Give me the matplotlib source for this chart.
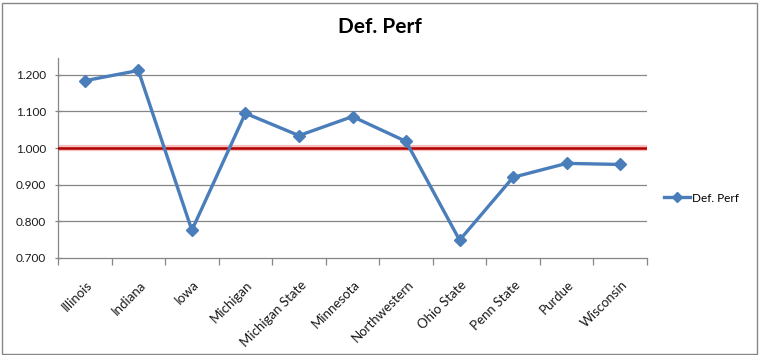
import matplotlib
matplotlib.use("Agg")
import matplotlib.pyplot as plt
from matplotlib.patches import Rectangle
from matplotlib.lines import Line2D
from matplotlib.transforms import ScaledTranslation

categories = ["Illinois", "Indiana", "Iowa", "Michigan", "Michigan State", "Minnesota",
              "Northwestern", "Ohio State", "Penn State", "Purdue", "Wisconsin"]
def_perf = [1.184, 1.212, 0.775, 1.095, 1.034, 1.086, 1.018, 0.748, 0.920, 0.958, 0.955]
y_ticks = [0.7, 0.8, 0.9, 1.0, 1.1, 1.2]
y_ticklabels = ["0.700", "0.800", "0.900", "1.000", "1.100", "1.200"]
reference_level = 1.0
series_name = "Def. Perf"
title = "Def. Perf"

plt.rcParams['font.family'] = ['Lato', 'DejaVu Sans']

W, H = 760, 355
fig = plt.figure(figsize=(W / 100, H / 100), dpi=100)
fig.patch.set_facecolor("white")

# outer chart frame
fig.add_artist(Rectangle((1.5 / W, 1.5 / H), (W - 5) / W, (H - 4) / H, transform=fig.transFigure,
                         fill=False, edgecolor="#878787", linewidth=1.0))

left, right = 58 / W, 647 / W
bottom, top = 1 - 257.7 / H, 1 - 57.7 / H
ax = fig.add_axes([left, bottom, right - left, top - bottom])

grid_c = "#868686"
n = len(categories)
x = list(range(n))
ax.set_xlim(-0.5, n - 0.5)
ax.set_ylim(0.7, 1.247)

for yv in y_ticks[1:]:
    ax.axhline(yv, color=grid_c, lw=0.9, zorder=1)

# reference line with glow
ax.axhline(reference_level, color="#f4a6a6", lw=4.5, alpha=0.7, zorder=2)
ax.axhline(reference_level, color="#b00000", lw=1.8, zorder=3)

line_c = "#4A7EBB"
ax.plot(x, def_perf, color=line_c, lw=2.4, marker="D", markersize=6,
        markerfacecolor=line_c, markeredgecolor=line_c, zorder=4, solid_joinstyle="round")

for s in ["top", "right"]:
    ax.spines[s].set_visible(False)
for s in ["left", "bottom"]:
    ax.spines[s].set_color(grid_c)
    ax.spines[s].set_linewidth(0.9)

ax.set_yticks(y_ticks)
ax.set_yticklabels(y_ticklabels, fontsize=8.5, color="#1a1a1a")
ax.tick_params(axis="y", length=5, width=0.9, color=grid_c, pad=6, direction="inout")

# category boundary ticks
ax.set_xticks([i - 0.5 for i in range(n + 1)])
ax.set_xticklabels([])
ax.tick_params(axis="x", which="major", length=5, width=0.9, color=grid_c)
ax.set_xticks(x, minor=True)
ax.set_xticklabels(categories, minor=True, rotation=45, ha="right", va="top",
                   rotation_mode="anchor", fontsize=9.5, color="#1a1a1a")
ax.tick_params(axis="x", which="minor", length=0, pad=15)
shift = ScaledTranslation(1 / 100, 0, fig.dpi_scale_trans)
for lbl in ax.get_xticklabels(minor=True):
    lbl.set_transform(lbl.get_transform() + shift)

fig.text(380 / W, 1 - 27 / H, title, ha="center", va="center", fontsize=15,
         fontweight="bold", color="#000000")

# legend
handle = Line2D([], [], color=line_c, lw=2.4, marker="D", markersize=5,
                markerfacecolor=line_c, markeredgecolor=line_c)
fig.legend([handle], [series_name], loc="center left", bbox_to_anchor=(664 / W, 1 - 198 / H),
           frameon=False, fontsize=8.5, handlelength=2.2, handletextpad=0.2,
           borderaxespad=0, borderpad=0)

fig.savefig("out.png", dpi=100, facecolor="white")
